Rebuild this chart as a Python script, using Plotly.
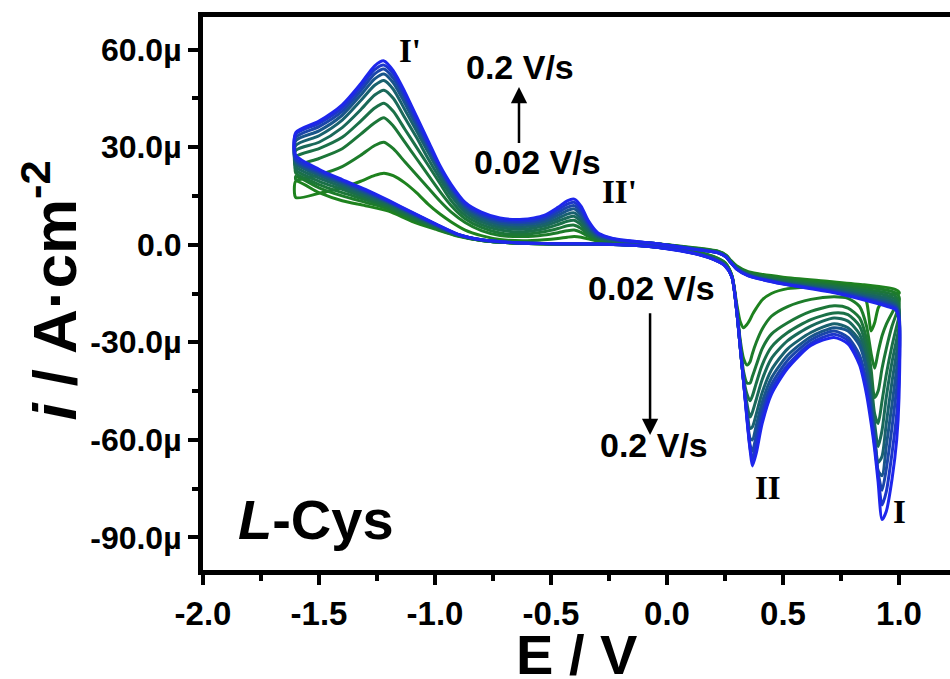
import plotly.graph_objects as go

# ---------------- data ----------------
scan_rates = ["0.02", "0.04", "0.06", "0.08", "0.10", "0.12", "0.14", "0.16", "0.18", "0.20"]  # V/s
colors = ["rgb(30,130,30)", "rgb(29,124,42)", "rgb(28,118,56)", "rgb(27,112,72)", "rgb(26,105,90)",
          "rgb(25,97,110)", "rgb(25,85,138)", "rgb(26,70,168)", "rgb(28,54,202)", "rgb(30,38,236)"]

# lower-left branch (forward scan, starting at -1.6 V)  -- current in µA/cm2
E_LL = [-1.6, -1.5, -1.4, -1.3, -1.2, -1.1, -1.0, -0.9, -0.8, -0.65, -0.45]
I_LL = [
    [19.5, 16.0, 13.5, 12.0, 10.3, 7.2, 4.8, 2.6, 1.3, 0.5, 0.2],
    [21.0, 17.5, 15.0, 13.0, 11.0, 7.8, 5.1, 2.7, 1.3, 0.5, 0.2],
    [22.0, 18.5, 16.0, 13.8, 11.5, 8.2, 5.3, 2.8, 1.3, 0.5, 0.2],
    [23.0, 19.5, 17.0, 14.5, 12.0, 8.6, 5.5, 2.9, 1.4, 0.5, 0.2],
    [24.0, 20.5, 17.8, 15.0, 12.4, 9.0, 5.7, 3.0, 1.4, 0.5, 0.2],
    [25.0, 21.3, 18.5, 15.6, 12.8, 9.3, 6.0, 3.0, 1.4, 0.6, 0.3],
    [25.5, 21.8, 19.0, 16.0, 13.0, 9.5, 6.1, 3.1, 1.5, 0.6, 0.3],
    [26.0, 22.3, 19.4, 16.4, 13.2, 9.7, 6.3, 3.1, 1.5, 0.6, 0.3],
    [26.5, 22.7, 19.7, 16.7, 13.4, 9.9, 6.4, 3.2, 1.5, 0.6, 0.3],
    [27.5, 23.2, 20.0, 17.0, 13.6, 10.0, 6.5, 3.2, 1.5, 0.6, 0.3],
]

# lower-right branch (forward scan, peaks II and I)
E_LR = [-0.3, -0.1, 0.1, 0.2, 0.25, 0.28, 0.30, 0.315, 0.33, 0.345, 0.358, 0.368, 0.385, 0.41, 0.45,
        0.52, 0.62, 0.72, 0.78, 0.83, 0.86, 0.88, 0.895, 0.91, 0.927, 0.945, 0.97, 0.99, 1.0]
I_LR = [
    [0.2, -0.2, -1.8, -3.6, -5.5, -9.5, -18, -23.5, -25.5, -24.5, -23, -21.5, -19.5, -17, -15, -13.5, -13,
     -12.8, -13, -14, -17.5, -26.5, -24, -19.5, -17.5, -16.5, -15.5, -15, -15],
    [0.2, -0.2, -1.9, -3.7, -5.6, -9.6, -19, -29, -35, -37, -36, -33.5, -30, -26, -22, -19, -16.8,
     -16, -16.5, -19, -25, -33.5, -38, -33, -28, -24.5, -21, -18.5, -17.5],
    [0.2, -0.3, -2.0, -3.8, -5.8, -9.7, -19.5, -30, -39, -42.5, -42.5, -40.5, -37, -32, -27.5, -24, -20.5,
     -18.8, -19.5, -22.5, -29, -38.5, -47, -45, -38, -32, -25, -21, -19],
    [0.2, -0.3, -2.1, -4.0, -6.0, -9.8, -19.8, -30.5, -41, -46, -48, -46.5, -42.5, -37, -31.5, -27, -23,
     -21, -21.5, -25, -32, -42, -52, -55, -48, -40, -31, -25, -22],
    [0.2, -0.3, -2.2, -4.1, -6.1, -9.9, -20, -31, -41.5, -49, -53, -51.5, -47.5, -41.5, -35, -29.5, -25,
     -22.5, -23.5, -27.5, -34.5, -45, -55, -62, -57, -47, -36, -29, -25],
    [0.2, -0.3, -2.3, -4.3, -6.3, -10, -20, -31, -42, -51, -56.5, -56, -52, -45.5, -38.5, -32, -27,
     -24.3, -25.5, -29.5, -37, -47.5, -58, -67, -65, -55, -42, -33, -28],
    [0.2, -0.4, -2.3, -4.4, -6.4, -10, -20, -31, -42, -52.5, -59.5, -60, -55.5, -48.5, -41, -34, -28.3,
     -25.5, -26.5, -31, -38.5, -49, -59.5, -69.5, -71, -62, -49, -38, -32],
    [0.2, -0.4, -2.4, -4.4, -6.4, -10, -20, -31, -42, -53, -61.5, -63.5, -58.5, -51, -43, -35.5, -29.3,
     -26.5, -28.5, -34, -42, -51, -60, -70, -75.5, -69, -56, -44, -36],
    [0.2, -0.4, -2.4, -4.5, -6.5, -10, -20, -31, -42, -53.5, -62.5, -66, -61, -53, -44.5, -37, -30.3,
     -27.5, -29.5, -35.5, -44, -53, -61.5, -71, -80, -76, -64, -52, -41],
    [0.2, -0.4, -2.5, -4.5, -6.5, -10, -20, -31, -42, -54, -63, -68, -64, -55, -46, -38, -31,
     -28.5, -30.5, -37, -46, -55, -63, -73, -84.5, -82, -72, -60, -47],
]

# upper-right branch (reverse scan from 1.0 V)
E_UR = [1.0, 0.985, 0.95, 0.85, 0.7, 0.5, 0.35, 0.3, 0.275, 0.255, 0.22, 0.1, -0.05, -0.2]
I_UR = [
    [-14.5, -13.8, -13.2, -12.3, -11.3, -10.0, -8.3, -6.5, -4.8, -3.2, -2.0, -0.8, 0.3, 0.6],
    [-16.0, -14.8, -14.0, -13.0, -11.8, -10.4, -8.5, -6.7, -5.0, -3.3, -2.1, -0.9, 0.3, 0.7],
    [-17.5, -15.8, -14.8, -13.7, -12.3, -10.8, -8.7, -6.9, -5.1, -3.4, -2.2, -1.0, 0.3, 0.8],
    [-19.0, -16.8, -15.6, -14.3, -12.7, -11.1, -8.9, -7.0, -5.2, -3.5, -2.3, -1.0, 0.3, 0.9],
    [-20.0, -17.6, -16.4, -15.0, -13.1, -11.4, -9.0, -7.1, -5.3, -3.6, -2.3, -1.1, 0.3, 1.0],
    [-21.0, -18.3, -17.1, -15.5, -13.5, -11.6, -9.2, -7.2, -5.4, -3.6, -2.4, -1.1, 0.3, 1.1],
    [-21.5, -18.8, -17.7, -16.0, -13.8, -11.8, -9.3, -7.3, -5.4, -3.7, -2.4, -1.1, 0.4, 1.2],
    [-22.0, -19.2, -18.2, -16.4, -14.1, -11.9, -9.4, -7.4, -5.5, -3.7, -2.5, -1.2, 0.4, 1.3],
    [-22.5, -19.6, -18.6, -16.7, -14.3, -12.0, -9.5, -7.5, -5.5, -3.8, -2.5, -1.2, 0.4, 1.4],
    [-23.0, -20.0, -19.0, -17.0, -14.5, -12.1, -9.6, -7.5, -5.5, -3.8, -2.5, -1.2, 0.4, 1.5],
]

# upper-left branch (reverse scan, peaks II' and I')
E_UL = [-0.26, -0.30, -0.34, -0.37, -0.40, -0.43, -0.47, -0.53, -0.62, -0.72, -0.80, -0.87,
        -0.93, -0.98, -1.03, -1.08, -1.13, -1.18, -1.22, -1.26, -1.32, -1.40, -1.50, -1.60]
I_UL = [
    [0.7, 1.1, 1.8, 2.3, 2.5, 2.3, 1.9, 1.5, 1.2, 1.6, 2.8, 4.5, 7.0, 9.5, 12.5, 16.0, 19.0, 21.2, 22.0, 21.3, 19.5, 17.5, 15.8, 14.5],
    [0.9, 1.4, 2.6, 3.8, 4.5, 4.3, 3.7, 3.0, 2.5, 2.8, 4.3, 6.8, 10.0, 13.5, 17.5, 21.5, 25.5, 29.5, 31.5, 30.5, 27.5, 24.0, 21.5, 20.0],
    [1.1, 1.7, 3.2, 5.0, 6.0, 5.8, 5.0, 4.0, 3.2, 3.6, 5.3, 8.0, 12.0, 16.5, 21.5, 26.5, 31.5, 36.5, 39.0, 37.5, 34.0, 29.5, 26.5, 24.0],
    [1.3, 2.0, 3.9, 6.1, 7.5, 7.2, 6.2, 4.9, 4.0, 4.5, 6.2, 9.0, 13.5, 19.0, 24.5, 30.0, 35.5, 41.0, 43.5, 42.0, 38.0, 33.0, 29.5, 27.0],
    [1.5, 2.3, 4.6, 7.1, 8.7, 8.3, 7.2, 5.7, 4.8, 5.3, 7.0, 10.0, 15.0, 20.5, 26.5, 33.0, 39.0, 45.0, 47.5, 46.0, 41.5, 36.0, 31.5, 29.0],
    [1.7, 2.6, 5.2, 8.0, 9.8, 9.4, 8.1, 6.4, 5.5, 6.0, 7.8, 10.8, 16.0, 22.0, 28.5, 35.0, 41.5, 47.8, 50.5, 49.0, 44.3, 38.3, 33.5, 30.5],
    [1.9, 2.9, 5.8, 9.0, 11.0, 10.5, 9.0, 7.1, 6.2, 6.6, 8.5, 11.5, 17.0, 23.0, 29.5, 36.5, 43.5, 49.8, 52.5, 51.0, 46.0, 39.8, 35.0, 32.0],
    [2.1, 3.2, 6.4, 9.9, 12.0, 11.5, 9.9, 7.8, 6.8, 7.2, 9.0, 12.0, 17.5, 23.5, 30.5, 37.5, 45.0, 51.2, 54.0, 52.5, 47.3, 41.0, 36.3, 33.0],
    [2.3, 3.5, 7.0, 10.8, 13.0, 12.5, 10.7, 8.4, 7.3, 7.7, 9.5, 12.5, 18.0, 24.0, 31.0, 38.5, 46.0, 52.5, 55.2, 53.8, 48.5, 42.0, 37.3, 34.0],
    [2.5, 3.8, 7.5, 11.8, 14.0, 13.5, 11.5, 9.0, 7.8, 8.2, 10.0, 13.0, 18.5, 24.5, 32.0, 39.5, 47.0, 53.5, 56.5, 55.0, 49.5, 43.0, 38.0, 34.5],
]

x_tickvals = [-2.0, -1.5, -1.0, -0.5, 0.0, 0.5, 1.0]
x_ticktext = ["-2.0", "-1.5", "-1.0", "-0.5", "0.0", "0.5", "1.0"]
y_tickvals = [-90, -60, -30, 0, 30, 60]
y_ticktext = ["-90.0µ", "-60.0µ", "-30.0µ", "0.0", "30.0µ", "60.0µ"]

# ---------------- figure ----------------
fig = go.Figure()
for k in range(len(scan_rates)):
    xs = E_LL + E_LR + E_UR + E_UL + [E_LL[0]]
    ys = I_LL[k] + I_LR[k] + I_UR[k] + I_UL[k] + [I_LL[k][0]]
    fig.add_trace(go.Scatter(x=xs, y=ys, mode="lines", name=scan_rates[k] + " V/s",
                             line=dict(color=colors[k], width=3, shape="spline", smoothing=0.7),
                             hoverinfo="skip"))

SANS = "Arial, Liberation Sans, sans-serif"
SERIF = "Times New Roman, Liberation Serif, serif"

fig.update_layout(
    width=950, height=679,
    margin=dict(l=203, r=0, t=17, b=109),
    paper_bgcolor="white", plot_bgcolor="white",
    showlegend=False,
    xaxis=dict(range=[-2.0, 1.2198], tickmode="array", tickvals=x_tickvals, ticktext=x_ticktext,
               showline=True, linecolor="black", linewidth=5, mirror=True,
               ticks="outside", ticklen=10, tickwidth=4, tickcolor="black",
               minor=dict(tickvals=[-1.75, -1.25, -0.75, -0.25, 0.25, 0.75], ticks="outside",
                          ticklen=6, tickwidth=4, tickcolor="black"),
               showgrid=False, zeroline=False,
               tickfont=dict(family=SANS, size=33, color="black", weight="bold")),
    yaxis=dict(range=[-100, 70], tickmode="array", tickvals=y_tickvals, ticktext=y_ticktext,
               showline=True, linecolor="black", linewidth=5,
               ticks="outside", ticklen=10, tickwidth=4, tickcolor="black",
               minor=dict(tickvals=[-75, -45, -15, 15, 45], ticks="outside",
                          ticklen=6, tickwidth=4, tickcolor="black"),
               showgrid=False, zeroline=False,
               tickfont=dict(family=SANS, size=32, color="black", weight="bold")),
)

ann = []
# axis titles
ann.append(dict(text="E / V", xref="paper", yref="paper", x=0.5, y=-0.152, showarrow=False,
                xanchor="center", yanchor="middle",
                font=dict(family=SANS, size=56, color="black", weight="bold")))
ann.append(dict(text="<i>i</i> / A·cm<sup>-2</sup>", xref="paper", yref="paper", x=-0.205, y=0.505,
                showarrow=False, textangle=-90, xanchor="center", yanchor="middle",
                font=dict(family=SANS, size=62, color="black", weight="bold")))
# sample label
ann.append(dict(text="<i>L</i>-Cys", x=-1.513, y=-84.6, showarrow=False, xanchor="center", yanchor="middle",
                font=dict(family=SANS, size=56, color="black", weight="bold")))
# peak labels
for txt, xx, yy in [("I'", -1.108, 59.4), ("II'", -0.203, 16.3), ("II", 0.435, -74.8), ("I", 1.004, -82.2)]:
    ann.append(dict(text=txt, x=xx, y=yy, showarrow=False, xanchor="center", yanchor="middle",
                    font=dict(family=SERIF, size=33, color="black", weight="bold")))
# scan-rate labels
for txt, xx, yy in [("0.2 V/s", -0.634, 54.5), ("0.02 V/s", -0.560, 25.5),
                    ("0.02 V/s", -0.065, -13.2), ("0.2 V/s", -0.056, -61.5)]:
    ann.append(dict(text=txt, x=xx, y=yy, showarrow=False, xanchor="center", yanchor="middle",
                    font=dict(family=SANS, size=34, color="black", weight="bold")))
# arrows
ann.append(dict(text="", x=-0.638, y=48.5, ax=-0.638, ay=30.8, axref="x", ayref="y",
                showarrow=True, arrowhead=2, arrowsize=1.3, arrowwidth=2.5, arrowcolor="black"))
ann.append(dict(text="", x=-0.073, y=-58.5, ax=-0.073, ay=-20.6, axref="x", ayref="y",
                showarrow=True, arrowhead=2, arrowsize=1.3, arrowwidth=2.5, arrowcolor="black"))
fig.update_layout(annotations=ann)

fig.write_html("out.html")
